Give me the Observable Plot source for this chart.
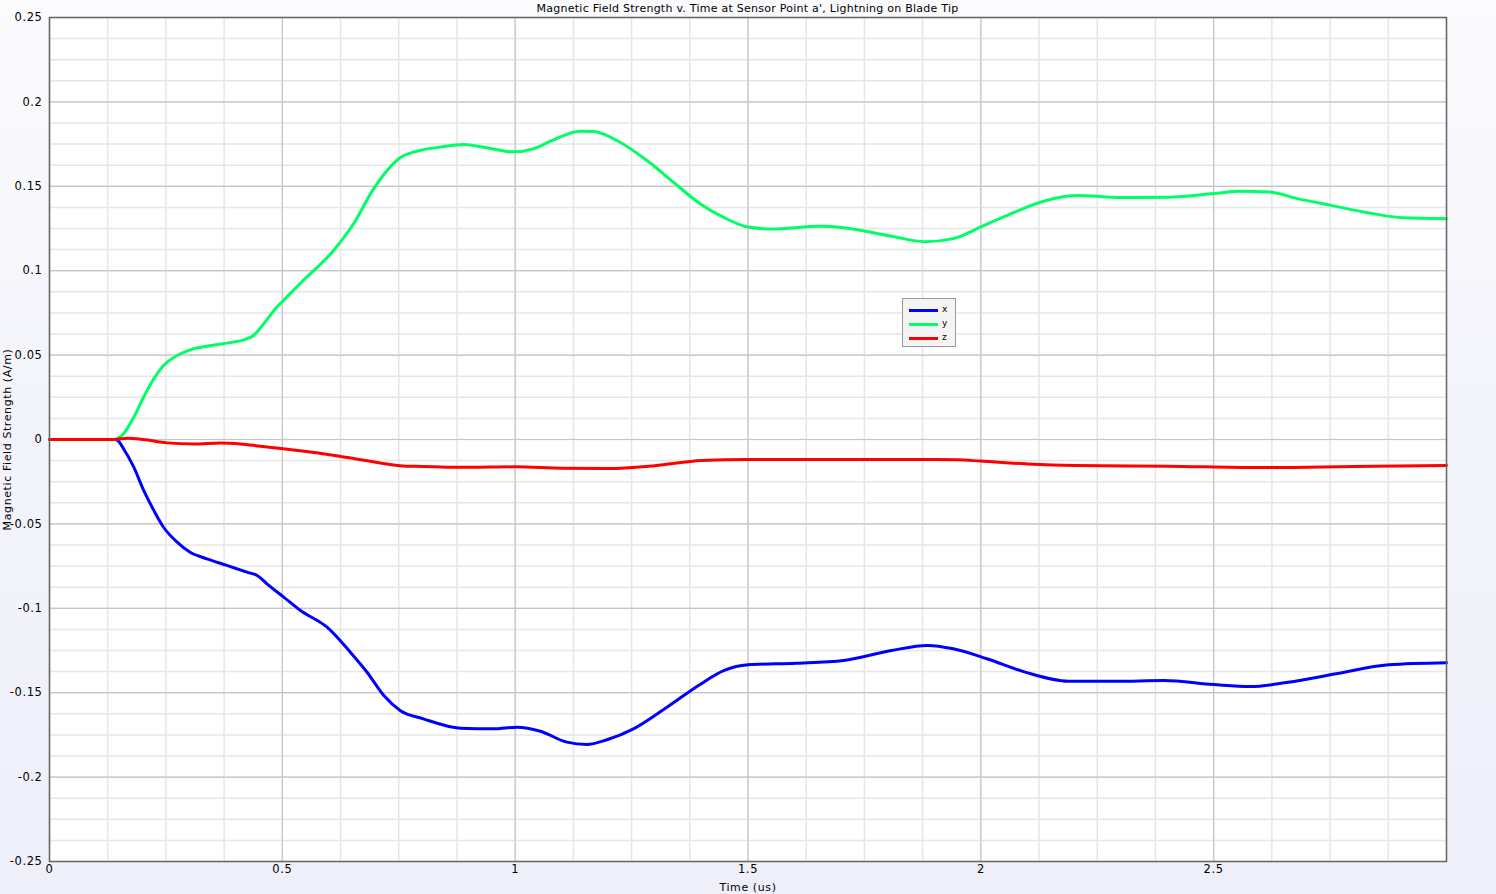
<!DOCTYPE html>
<html>
<head>
<meta charset="utf-8">
<script src="https://cdn.jsdelivr.net/npm/d3@7"></script>
<script src="https://cdn.jsdelivr.net/npm/@observablehq/plot@0.6"></script>
<style>
  html, body { margin: 0; padding: 0; }
  body {
    width: 1496px; height: 894px; overflow: hidden; position: relative;
    background: linear-gradient(to bottom, #fbfbfd 0%, #f3f4fb 50%, #eeeff9 100%);
    font-family: "DejaVu Sans", sans-serif;
  }
  #title {
    position: absolute; left: 49px; width: 1397px; top: 0; height: 17px;
    line-height: 17px; text-align: center; font-size: 11px; letter-spacing: 0.25px; color: #000;
  }
  #chart { position: absolute; left: 0; top: 17px; }
  #chart text { letter-spacing: 0.6px; }
  #legend {
    position: absolute; left: 902px; top: 298px; width: 54px; height: 49px;
    background: #f4f4f4; border: 1px solid #9a9a9a; box-sizing: border-box;
  }
  .li { position: absolute; left: 6px; height: 3px; width: 29px; }
  .lt { position: absolute; left: 39px; font-size: 9px; line-height: 10px; color: #000; }
</style>
</head>
<body>
<div id="title">Magnetic Field Strength v. Time at Sensor Point a', Lightning on Blade Tip</div>
<div id="chart"></div>
<div id="legend"></div>
<script>
// Series: x component (blue)
const tX = [0, 0.14, 0.148, 0.159, 0.181, 0.202, 0.224, 0.245, 0.274, 0.302, 0.338, 0.381, 0.424, 0.446, 0.467, 0.503, 0.539, 0.596, 0.646, 0.682, 0.718, 0.753, 0.803, 0.882, 0.954, 1.004, 1.054, 1.111, 1.154, 1.197, 1.254, 1.326, 1.397, 1.449, 1.5, 1.603, 1.705, 1.808, 1.885, 1.941, 2.013, 2.095, 2.188, 2.29, 2.393, 2.5, 2.578, 2.66, 2.763, 2.876, 3.0];
const vX = [0, 0, -0.001, -0.0055, -0.0164, -0.030, -0.042, -0.052, -0.0608, -0.0668, -0.0707, -0.0746, -0.0786, -0.0806, -0.0855, -0.0934, -0.1013, -0.1112, -0.126, -0.1379, -0.1517, -0.1605, -0.1655, -0.171, -0.1714, -0.1704, -0.1728, -0.1793, -0.1807, -0.1779, -0.1714, -0.1586, -0.1451, -0.1368, -0.1335, -0.1325, -0.1309, -0.125, -0.122, -0.124, -0.1299, -0.1378, -0.1432, -0.1432, -0.1428, -0.1452, -0.1464, -0.1438, -0.1388, -0.1335, -0.1323];

// Series: y component (green)
const tY = [0, 0.14, 0.148, 0.159, 0.181, 0.202, 0.224, 0.245, 0.274, 0.302, 0.338, 0.381, 0.417, 0.438, 0.46, 0.488, 0.502, 0.539, 0.61, 0.653, 0.696, 0.725, 0.753, 0.789, 0.839, 0.889, 0.939, 0.996, 1.039, 1.082, 1.139, 1.168, 1.225, 1.283, 1.34, 1.397, 1.449, 1.5, 1.551, 1.654, 1.705, 1.808, 1.88, 1.941, 2.0, 2.065, 2.137, 2.208, 2.301, 2.403, 2.5, 2.557, 2.619, 2.68, 2.752, 2.834, 2.906, 3.0];
const vY = [0, 0, 0.0008, 0.0034, 0.0132, 0.025, 0.036, 0.0438, 0.0498, 0.0531, 0.0553, 0.0571, 0.059, 0.0616, 0.0685, 0.0784, 0.0823, 0.0926, 0.112, 0.1278, 0.1485, 0.1594, 0.1669, 0.1708, 0.1732, 0.1748, 0.1728, 0.1704, 0.1722, 0.1775, 0.1826, 0.1825, 0.1761, 0.1653, 0.1524, 0.1397, 0.1314, 0.1259, 0.1247, 0.1263, 0.1255, 0.1204, 0.1172, 0.119, 0.1259, 0.1338, 0.1413, 0.1445, 0.1433, 0.1435, 0.1457, 0.147, 0.1466, 0.1427, 0.1387, 0.1342, 0.1314, 0.1308];

// Series: z component (red)
const tZ = [0, 0.14, 0.167, 0.202, 0.252, 0.31, 0.367, 0.41, 0.453, 0.502, 0.573, 0.623, 0.68, 0.753, 0.8, 0.9, 1.0, 1.1, 1.2, 1.3, 1.4, 1.5, 1.6, 1.7, 1.8, 1.9, 1.95, 2.0, 2.1, 2.2, 2.4, 2.6, 2.8, 3.0];
const vZ = [0, 0, 0.0008, 0.0, -0.002, -0.0026, -0.002, -0.0026, -0.004, -0.0055, -0.0079, -0.0099, -0.0125, -0.0155, -0.016, -0.0165, -0.0162, -0.017, -0.0172, -0.0155, -0.0125, -0.0118, -0.0118, -0.0118, -0.0118, -0.0118, -0.012, -0.0128, -0.0145, -0.0154, -0.0158, -0.0166, -0.016, -0.0154];

const seriesNames = ["x", "y", "z"];
const seriesColors = ["#0000ff", "#00ff66", "#ff0000"];

const xTicks = [0, 0.5, 1, 1.5, 2, 2.5];
const yTicks = [0.25, 0.2, 0.15, 0.1, 0.05, 0, -0.05, -0.1, -0.15, -0.2, -0.25];
const xMinor = d3.range(0, 3.0001, 0.125);
const yMinor = d3.range(-0.25, 0.25001, 0.0125);

const data = [
  ...tX.map((t, i) => ({t, v: vX[i], s: "x"})),
  ...tY.map((t, i) => ({t, v: vY[i], s: "y"})),
  ...tZ.map((t, i) => ({t, v: vZ[i], s: "z"}))
];

const fmt = d => String(+(+d).toFixed(3));

const chart = Plot.plot({
  width: 1496,
  height: 877,
  marginLeft: 49,
  marginRight: 50,
  marginTop: 0,
  marginBottom: 33,
  style: {fontFamily: "DejaVu Sans, sans-serif", fontSize: "11px", background: "transparent", overflow: "visible"},
  x: {domain: [0, 3]},
  y: {domain: [-0.25, 0.25]},
  color: {domain: seriesNames, range: seriesColors},
  marks: [
    Plot.frame({fill: "#ffffff"}),
    Plot.ruleX(xMinor, {stroke: "#e6e6e6", strokeWidth: 1.5}),
    Plot.ruleY(yMinor, {stroke: "#e6e6e6", strokeWidth: 1.5}),
    Plot.ruleX(xTicks, {stroke: "#c6c6c6", strokeWidth: 1.2}),
    Plot.ruleY(yTicks, {stroke: "#c6c6c6", strokeWidth: 1.2}),
    Plot.line(data, {x: "t", y: "v", z: "s", stroke: "s", strokeWidth: 3, curve: "monotone-x"}),
    Plot.frame({stroke: "#666666", strokeWidth: 1.5}),
    Plot.axisX(xTicks, {tickSize: 0, tickPadding: 3, tickFormat: fmt, label: null, fill: "#000", fontSize: 11.5}),
    Plot.axisY(yTicks, {tickSize: 0, tickPadding: 7, tickFormat: fmt, label: null, fill: "#000", fontSize: 11.5}),
    Plot.text(["Time (us)"], {frameAnchor: "bottom", dy: 29, fill: "#000", fontSize: 11}),
    Plot.text(["Magnetic Field Strength (A/m)"], {frameAnchor: "left", dx: -42, rotate: -90, textAnchor: "middle", fill: "#000", fontSize: 11})
  ]
});
document.getElementById("chart").appendChild(chart);

// Legend
const legend = document.getElementById("legend");
seriesNames.forEach((name, i) => {
  const line = document.createElement("div");
  line.className = "li";
  line.style.top = (9.5 + i * 14) + "px";
  line.style.background = seriesColors[i];
  legend.appendChild(line);
  const label = document.createElement("div");
  label.className = "lt";
  label.style.top = (5 + i * 14) + "px";
  label.textContent = name;
  legend.appendChild(label);
});
</script>
</body>
</html>
